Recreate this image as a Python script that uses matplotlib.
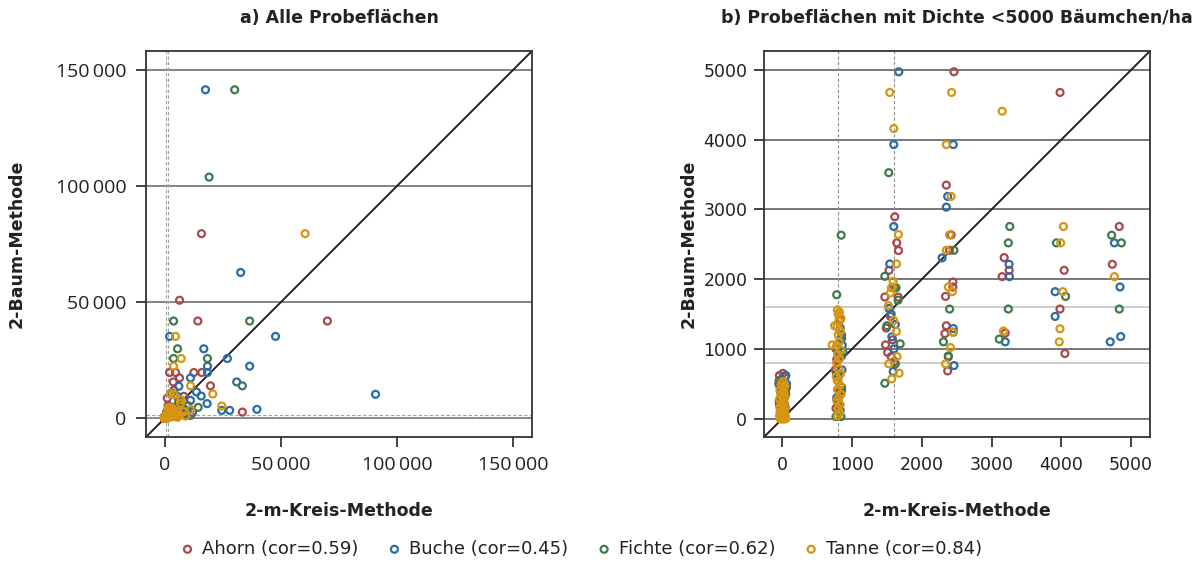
import matplotlib
matplotlib.use('Agg')
import matplotlib.pyplot as plt

species = ['Ahorn', 'Buche', 'Fichte', 'Tanne']
cors = [0.59, 0.45, 0.62, 0.84]
colors = ['#a8494f', '#2c6ca4', '#3f7a4d', '#d69512']

# densities per plot (Bäumchen/ha): x = 2-m-Kreis-Methode, y = 2-Baum-Methode
ahorn_x = [-40, 10, 40, -50, -30, 0, 30, -20, 20, -10, 50, -45, 60,
           830, 770, 780, 760, 790, 820, 800, 770, 810, 840,
           1612, 1640, 1665, 1530, 1470, 1660, 1550, 1580, 1480, 1510, 1560, 1610, 1490,
           2460, 2351, 2420, 2398, 2445, 2445, 2340, 2351, 2330, 2380, 2370,
           3180, 3252, 3151, 3195, 3981, 4040, 3980, 4050, 4830, 4730,
           15860, 6430, 14290, 70000, 2140, 4710, 12570, 15990, 6430, 3710, 19710,
           33430, 8290, 1140, 1500, 11140, 4000, 7000, 9500]
ahorn_y = [620, 650, 600, 500, 400, 300, 200, 100, 50, 0, 350, 250, 450,
           1420, 1000, 850, 700, 550, 400, 250, 150, 900, 1150,
           2894, 2520, 2410, 2127, 1744, 1744, 1466, 1131, 1059, 950, 891, 820, 1300,
           4972, 3348, 2635, 2414, 1960, 1888, 1753, 1332, 1220, 887, 685,
           2309, 2127, 2036, 1227, 4676, 2127, 1572, 934, 2755, 2213,
           79450, 50820, 41880, 41880, 19730, 19730, 19730, 19730, 17400, 15680, 14000,
           2720, 9500, 8700, 5610, 1300, 12090, 6000, 3500]

buche_x = [50, 60, -30, 20, -40, 50, 0, 30, -20,
           850, 860, 840, 855, 800, 850, 780, 830, 870,
           1669, 1598, 1598, 1540, 1600, 1530, 1570, 1600, 1590, 1560, 1620,
           2451, 2370, 2351, 2290, 2451, 2460,
           3250, 3255, 3195, 3910, 3910, 4760, 4840, 4850, 4700,
           17571, 32700, 2140, 47710, 16860, 27000, 18430, 36570, 18430, 11140, 31000,
           13710, 15710, 18290, 11140, 24570, 27990, 39710, 90710, 6140, 5430, 8000, 12000]
buche_y = [620, 500, 450, 350, 200, 150, 50, 0, 300,
           1200, 1050, 900, 700, 600, 400, 300, 120, 950,
           4972, 3929, 2755, 2218, 1878, 1580, 1174, 1000, 676, 1500, 1350,
           3929, 3186, 3032, 2305, 1293, 762,
           2213, 2036, 1102, 1821, 1466, 2520, 1888, 1178, 1102,
           141330, 62750, 35270, 35270, 29930, 25760, 22450, 22450, 19730, 17400, 15680,
           11360, 9630, 6350, 7770, 3450, 3450, 3890, 10360, 13820, 9500, 4500, 2500]

fichte_x = [-30, 20, -10, 45, -45,
            844, 780, 830, 850, 790, 850, 780, 850, 770, 840, 800,
            1526, 1470, 1630, 1500, 1690, 1620, 1470, 1660,
            2460, 2398, 2451, 2310, 2380,
            3260, 3240, 3240, 3110, 3930, 4060, 4720, 4860, 4830,
            30140, 19150, 3860, 36570, 5570, 3860, 18430, 33430, 14430, 8290, 3000, 6000, 10000]
fichte_y = [100, 30, 250, 400, 550,
            2630, 1777, 1300, 1150, 1000, 900, 650, 450, 30, 30, 200,
            3526, 2041, 1878, 1332, 1073, 786, 508, 1700,
            2414, 1572, 1240, 1102, 900,
            2755, 2520, 1572, 1141, 2520, 1753, 2630, 2520, 1572,
            141330, 103770, 41880, 41880, 29930, 25760, 25760, 14000, 4750, 2000, 11000, 7000, 5500]

tanne_x = [-30, -10, 10, 30, 50, -40, 0, 40, -20, 20, -35, 10, 45, -15, 25, -40, 5, 40,
           -20, 20, -30, 10, 35, -10, 15,
           790, 820, 800, 830, 780, 810, 840, 790, 825, 800, 775, 835, 805, 780, 820, 795,
           840, 780, 815, 800, 830, 785, 810, 840, 800, 820, 790, 749, 715,
           1540, 1598, 1664, 1636, 1588, 1564, 1550, 1522, 1598, 1636, 1645, 1526, 1674, 1569, 1580,
           2427, 2351, 2420, 2398, 2351, 2380, 2437, 2440, 2410, 2340,
           3151, 3170, 4030, 3990, 4020, 3980, 3970, 4760,
           60430, 4710, 7140, 3860, 11140, 20710, 24570, 11140, 2500, 4000, 7000, 6860,
           5600, 6400, 5600, 9000, 8000]
tanne_y = [0, 0, 0, 0, 0, 40, 60, 50, 100, 120, 160, 180, 150, 220, 240, 280, 300, 310,
           350, 380, 420, 440, 470, 500, 530,
           40, 80, 150, 200, 260, 300, 350, 420, 480, 540, 600, 650, 720, 800, 860, 920,
           980, 1050, 1100, 1200, 1250, 1320, 1400, 1440, 1500, 1530, 1560, 1332, 1059,
           4676, 4159, 2640, 2218, 1969, 1878, 1802, 1620, 1408, 1250, 891, 786, 652, 570, 1888,
           4676, 3929, 3186, 2635, 2414, 1888, 1821, 1240, 1020, 786,
           4407, 1256, 2755, 2520, 1821, 1289, 1102, 2036,
           79450, 35270, 25760, 22450, 14000, 10490, 5310, 3750, 10670, 10230, 8070, 6470,
           3000, 1500, 500, 1000, 3000]

xs = [ahorn_x, buche_x, fichte_x, tanne_x]
ys = [ahorn_y, buche_y, fichte_y, tanne_y]

lab_font = ['DejaVu Sans']
tick_font_a = ['Open Sans', 'DejaVu Sans']


def fmt(v):
    return f'{int(v):,}'.replace(',', '\u2009')


fig = plt.figure(figsize=(12.03, 5.64), dpi=100)
ax1 = fig.add_axes([146 / 1203, 127 / 564, 386 / 1203, 386 / 564])
ax2 = fig.add_axes([764 / 1203, 127 / 564, 386 / 1203, 386 / 564])

# a) all plots
lim1 = (-8000, 158000)
for yv in [0, 50000, 100000, 150000]:
    ax1.axhline(yv, color='#707070', lw=1.2, zorder=1)
for v in [800, 1600]:
    ax1.axvline(v, color='#a0a0a0', lw=0.8, ls=(0, (3, 2)), zorder=1)
    ax1.axhline(v, color='#a0a0a0', lw=0.8, ls=(0, (3, 2)), zorder=1)
handles = []
for i, sp in enumerate(species):
    h = ax1.scatter(xs[i], ys[i], s=25, facecolors='none', edgecolors=colors[i],
                    linewidths=1.6, zorder=3)
    handles.append(h)
ax1.axline((0, 0), slope=1, color='#222222', lw=1.4, zorder=2)
ax1.set_xlim(lim1)
ax1.set_ylim(lim1)
t1 = [0, 50000, 100000, 150000]
ax1.set_xticks(t1, labels=[fmt(v) for v in t1], fontsize=14, fontfamily=tick_font_a)
ax1.set_yticks(t1, labels=[fmt(v) for v in t1], fontsize=14, fontfamily=tick_font_a)
ax1.set_title('a) Alle Probeflächen', fontsize=12.5, fontweight='bold', pad=20,
              fontfamily=lab_font, color='#222222')

# b) plots with density < 5000
lim2 = (-262, 5270)
for yv in [0, 1000, 2000, 3000, 4000, 5000]:
    ax2.axhline(yv, color='#606060', lw=1.2, zorder=1)
for v in [800, 1600]:
    ax2.axhline(v, color='#c4c4c4', lw=1.2, zorder=1)
    ax2.axvline(v, color='#909090', lw=0.8, ls=(0, (3, 2)), zorder=1)
for i, sp in enumerate(species):
    bx = [x for x, y in zip(xs[i], ys[i]) if x < 5000 and y < 5000]
    by = [y for x, y in zip(xs[i], ys[i]) if x < 5000 and y < 5000]
    ax2.scatter(bx, by, s=25, facecolors='none', edgecolors=colors[i],
                linewidths=1.6, zorder=3)
ax2.axline((0, 0), slope=1, color='#222222', lw=1.4, zorder=2)
ax2.set_xlim(lim2)
ax2.set_ylim(lim2)
t2 = [0, 1000, 2000, 3000, 4000, 5000]
ax2.set_xticks(t2, labels=[str(v) for v in t2], fontsize=12.5, fontfamily=lab_font)
ax2.set_yticks(t2, labels=[str(v) for v in t2], fontsize=12.5, fontfamily=lab_font)
ax2.set_title('b) Probeflächen mit Dichte <5000 Bäumchen/ha', fontsize=12.5,
              fontweight='bold', pad=20, fontfamily=lab_font, color='#222222')

for ax, ylx in [(ax1, -120 / 386), (ax2, -66 / 386)]:
    for sp in ax.spines.values():
        sp.set_color('#333333')
        sp.set_linewidth(1.3)
    ax.tick_params(direction='out', length=7, width=1.3, pad=7, colors='#333333',
                   labelcolor='#222222')
    ax.set_xlabel('2-m-Kreis-Methode', fontsize=12.5, fontweight='bold',
                  fontfamily=lab_font, color='#222222')
    ax.set_ylabel('2-Baum-Methode', fontsize=12.5, fontweight='bold',
                  fontfamily=lab_font, color='#222222')
    ax.xaxis.set_label_coords(0.5, -65 / 386)
    ax.yaxis.set_label_coords(ylx, 0.5)

# tick labels of b) sit a little closer to the axis than in a)
ax2.tick_params(axis='y', pad=5)

labels = [f'{sp} (cor={c:.2f})' for sp, c in zip(species, cors)]
fig.legend(handles, labels, loc='center', bbox_to_anchor=(581 / 1203, 1 - 549 / 564),
           ncol=4, frameon=False, handlelength=0.8, handletextpad=0.4,
           columnspacing=1.6, prop={'family': 'DejaVu Sans', 'size': 13},
           labelcolor='#222222')

fig.savefig('out.png', dpi=100)
